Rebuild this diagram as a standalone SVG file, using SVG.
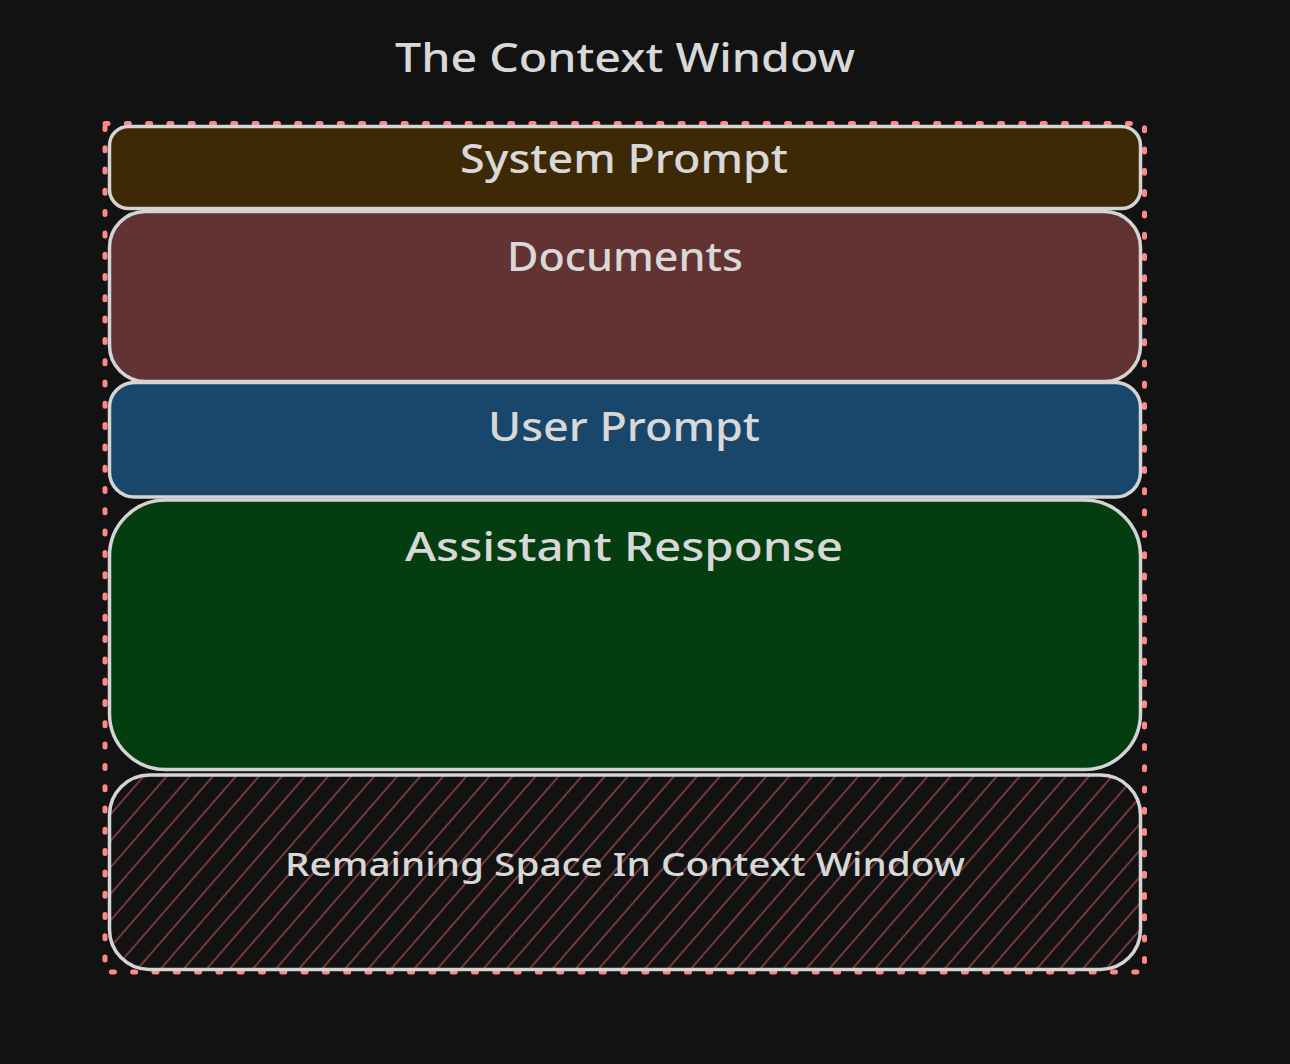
<svg xmlns="http://www.w3.org/2000/svg" width="1290" height="1064" viewBox="0 0 1290 1064">
  <defs>
    <style>
      .box { stroke: #d4d4d4; stroke-width: 3.5; }
      .lbl { font-family: "Noto Sans", "DejaVu Sans", sans-serif; fill: #d8d8d8; text-anchor: middle; font-size: 40px; font-weight: 500; }
      .frame { fill: none; stroke: #ff8787; stroke-width: 5; stroke-dasharray: 3 18.3; stroke-linecap: round; }
    </style>
    <pattern id="hatch" patternUnits="userSpaceOnUse" width="40" height="17.4" patternTransform="rotate(-49)">
      <line x1="0" y1="8.7" x2="40" y2="8.7" stroke="#773a3a" stroke-width="2"/>
    </pattern>
  </defs>
  <rect x="0" y="0" width="1290" height="1064" fill="#121212"/>

  <g id="title">
    <text class="lbl" x="625" y="72" textLength="460" lengthAdjust="spacingAndGlyphs">The Context Window</text>
  </g>

  <g id="context-window-frame">
    <rect class="frame" x="105" y="123.5" width="1039.5" height="848.5"/>
  </g>

  <g id="system-prompt">
    <rect class="box" x="109.5" y="126.5" width="1031" height="82" rx="19" fill="#3d2905"/>
    <text class="lbl" x="624" y="173" textLength="328" lengthAdjust="spacingAndGlyphs">System Prompt</text>
  </g>

  <g id="documents">
    <rect class="box" x="109.5" y="211.5" width="1031" height="170" rx="36" fill="#633232"/>
    <text class="lbl" x="625" y="271" textLength="236" lengthAdjust="spacingAndGlyphs">Documents</text>
  </g>

  <g id="user-prompt">
    <rect class="box" x="109.5" y="382.5" width="1031" height="114.5" rx="25" fill="#19466b"/>
    <text class="lbl" x="624" y="441" textLength="272" lengthAdjust="spacingAndGlyphs">User Prompt</text>
  </g>

  <g id="assistant-response">
    <rect class="box" x="109.5" y="500" width="1031" height="269.5" rx="56" fill="#043d0f"/>
    <text class="lbl" x="624" y="561" textLength="438" lengthAdjust="spacingAndGlyphs">Assistant Response</text>
  </g>

  <g id="remaining-space">
    <rect class="box" x="109.5" y="775" width="1031" height="194.5" rx="40" fill="url(#hatch)"/>
    <text class="lbl" x="625" y="876" style="font-size:32px" textLength="680" lengthAdjust="spacingAndGlyphs">Remaining Space In Context Window</text>
  </g>

  <g id="connectors"></g>
</svg>
